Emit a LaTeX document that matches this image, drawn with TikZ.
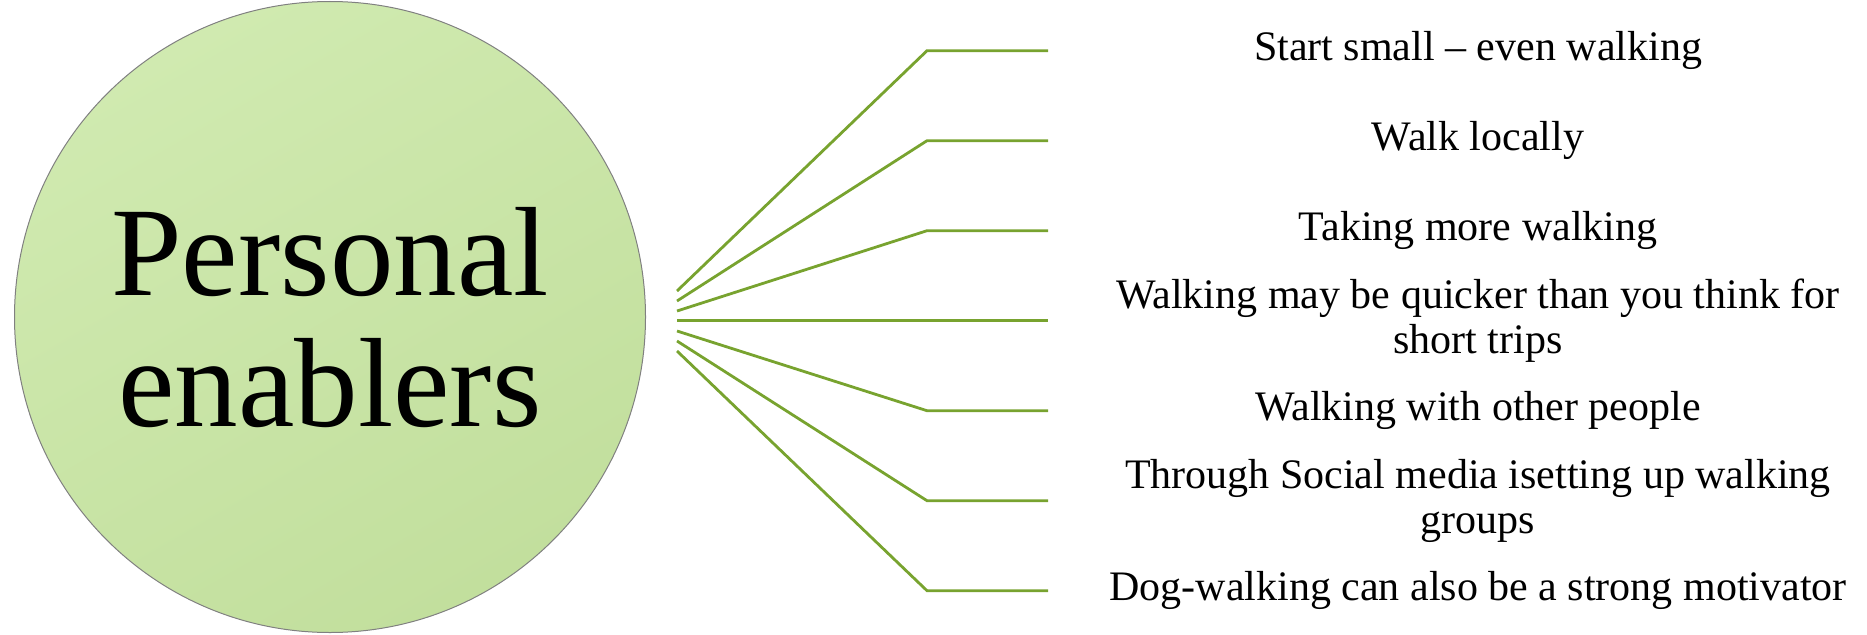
\documentclass[tikz,border=0pt]{standalone}
\usepackage{fontspec}
\setmainfont{Liberation Serif}
\definecolor{branch}{RGB}{120,163,47}
\definecolor{circtop}{RGB}{208,234,176}
\definecolor{circbot}{RGB}{194,223,157}
\definecolor{circedge}{RGB}{128,128,128}
\tikzset{
  hub/.style={circle, draw=circedge, line width=1pt, minimum size=631pt, inner sep=0pt,
    top color=circtop, bottom color=circbot, shading angle=30},
  hubtext/.style={align=center, font=\fontsize{127}{131}\selectfont, inner sep=0pt},
  item/.style={align=center, font=\fontsize{42}{45}\selectfont, inner sep=0pt},
  branchline/.style={draw=branch, line width=2.8pt}
}
\begin{document}
\begin{tikzpicture}[x=1pt,y=-1pt]
\useasboundingbox (0,0) rectangle (1867,634);
\node[hub] (c) at (330,317) {};
\node[hubtext] (ct) at (330,318) {Personal\\enablers};
% start points
\coordinate (s1) at (677,291);
\coordinate (s2) at (677,301);
\coordinate (s3) at (677,311);
\coordinate (s4) at (677,321);
\coordinate (s5) at (677,331);
\coordinate (s6) at (677,341);
\coordinate (s7) at (677,351);
% bends and ends
\foreach \i/\y in {1/50.7,2/140.7,3/230.7,4/320.7,5/410.7,6/500.7,7/590.7}{
  \coordinate (b\i) at (927,\y);
  \coordinate (e\i) at (1048,\y);
}
\draw[branchline] (s1) -- (b1) -- (e1);
\draw[branchline] (s2) -- (b2) -- (e2);
\draw[branchline] (s3) -- (b3) -- (e3);
\draw[branchline] (s4 |- b4) -- (e4);
\draw[branchline] (s5) -- (b5) -- (e5);
\draw[branchline] (s6) -- (b6) -- (e6);
\draw[branchline] (s7) -- (b7) -- (e7);
\node[item] (t1) at (1478,50.7) {Start small – even walking};
\node[item] (t2) at (1478,140.7) {Walk locally};
\node[item] (t3) at (1478,230.7) {Taking more walking};
\node[item] (t4) at (1478,320.7) {Walking may be quicker than you think for\\short trips};
\node[item] (t5) at (1478,410.7) {Walking with other people};
\node[item] (t6) at (1478,500.7) {Through Social media isetting up walking\\groups};
\node[item] (t7) at (1478,590.7) {Dog-walking can also be a strong motivator};
\end{tikzpicture}
\end{document}
